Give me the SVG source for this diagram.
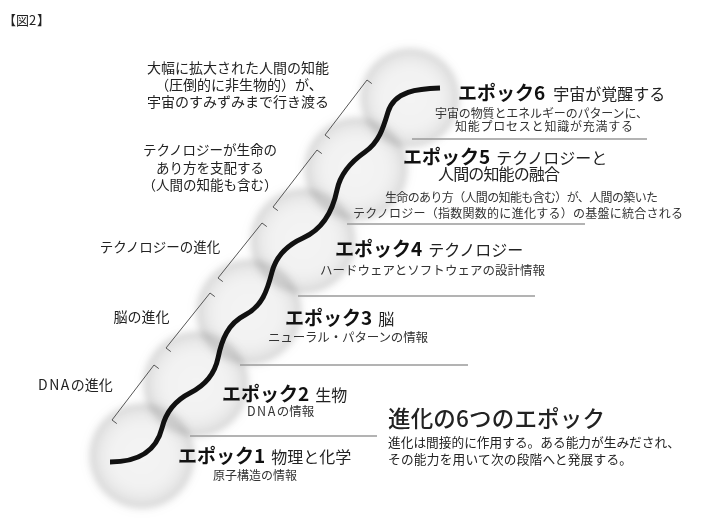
<svg xmlns="http://www.w3.org/2000/svg" width="711" height="531" viewBox="0 0 711 531">
<defs>
<radialGradient id="sph" cx="50%" cy="50%" r="50%">
<stop offset="0" stop-color="#000" stop-opacity="0"/>
<stop offset="0.6" stop-color="#000" stop-opacity="0.01"/>
<stop offset="0.85" stop-color="#000" stop-opacity="0.05"/>
<stop offset="1" stop-color="#000" stop-opacity="0.15"/>
</radialGradient>
<filter id="soft" x="-30%" y="-30%" width="160%" height="160%">
<feGaussianBlur stdDeviation="3"/>
</filter>
<filter id="halo" x="-40%" y="-40%" width="180%" height="180%">
<feGaussianBlur stdDeviation="6"/>
</filter>
<style>
text{font-family:"Noto Sans CJK JP","Noto Sans CJK SC",sans-serif;fill:#222}
.lbl{font-size:14px;text-anchor:middle}
.lbl2{font-size:13.5px;text-anchor:middle}
.hd{font-size:19px;font-weight:700;fill:#111}
.hs{font-size:16px;font-weight:400;fill:#222}
.sub{font-size:12px;fill:#333}
.sub2{font-size:12.5px;fill:#333}
.rule{stroke:#9a9a9a;stroke-width:1.5;fill:none}
.br{stroke:#555;stroke-width:1;fill:none}
.wave{stroke:#111;stroke-width:5;fill:none}
.sp{fill:url(#sph)}
.sh{fill:#000;opacity:0.045}
</style>
</defs>
<rect width="711" height="531" fill="#fff"/>

<g id="spheres">
<g filter="url(#halo)">
<circle class="sh" cx="142" cy="456" r="53"/>
<circle class="sh" cx="196" cy="384" r="53"/>
<circle class="sh" cx="249" cy="312" r="53"/>
<circle class="sh" cx="303" cy="241" r="53"/>
<circle class="sh" cx="356" cy="169" r="52"/>
<circle class="sh" cx="410" cy="98" r="50"/>
</g>
<g filter="url(#soft)">
<circle class="sp" cx="410" cy="98" r="49"/>
<circle class="sp" cx="356" cy="169" r="51"/>
<circle class="sp" cx="303" cy="241" r="52"/>
<circle class="sp" cx="249" cy="312" r="52"/>
<circle class="sp" cx="196" cy="384" r="52"/>
<circle class="sp" cx="142" cy="456" r="52"/>
</g>
</g>

<g id="connectors">
<path class="wave" d="M110,462 C140,462 156.7,449.3 162,428 C166,411.5 175,400.6 190,393 C205,385.4 214.6,374.7 218,358 C221.8,339.4 228,323.6 245,315 C262,306.4 267.3,290.4 272,272 C276.3,255.5 287.5,245 303,238 C323,229 332.6,211.6 337,190 C340.4,173.3 351,161.7 365,152 C379,142.3 383.1,128.3 388,112 C394.4,90.9 418,88.7 440,88"/>
<path class="br" d="M158.8,368.6 L154,365 L112,420 L116.8,423.6"/>
<path class="br" d="M214.8,296.6 L210,293 L166,348 L170.8,351.6"/>
<path class="br" d="M266.8,226.6 L262,223 L218,278 L222.8,281.6"/>
<path class="br" d="M321.8,153.6 L317,150 L273,207 L277.8,210.6"/>
<path class="br" d="M371.8,83.6 L367,80 L325,135 L329.8,138.6"/>
<line class="rule" x1="412" y1="139" x2="647" y2="139"/>
<line class="rule" x1="347" y1="224" x2="585" y2="224"/>
<line class="rule" x1="298" y1="296" x2="535" y2="296"/>
<line class="rule" x1="240" y1="365" x2="468" y2="365"/>
<line class="rule" x1="190" y1="436" x2="377" y2="436"/>
</g>

<g id="fig-label">
<text y="25" font-size="13"><tspan x="3">【</tspan><tspan x="16">図2</tspan><tspan x="37">】</tspan></text>
</g>

<g id="label-universe">
<text class="lbl" x="238" y="73">大幅に拡大された人間の知能</text>
<text class="lbl" x="239" y="90">（圧倒的に非生物的）が、</text>
<text class="lbl" x="238" y="106.5">宇宙のすみずみまで行き渡る</text>
</g>
<g id="label-techlife">
<text class="lbl2" x="210" y="155">テクノロジーが生命の</text>
<text class="lbl2" x="210" y="173">あり方を支配する</text>
<text class="lbl2" x="210" y="190">（人間の知能も含む）</text>
</g>
<g id="label-tech">
<text class="lbl2" x="160" y="252">テクノロジーの進化</text>
</g>
<g id="label-brain">
<text class="lbl" x="141.5" y="322">脳の進化</text>
</g>
<g id="label-dna">
<text x="38" y="390" font-size="14"><tspan letter-spacing="1.5">DNA</tspan>の進化</text>
</g>

<g id="epoch6">
<text x="458" y="99.5"><tspan class="hd">エポック6</tspan><tspan class="hs" dx="8">宇宙が覚醒する</tspan></text>
<text class="sub" x="541.5" y="117.5" text-anchor="middle" textLength="213">宇宙の物質とエネルギーのパターンに、</text>
<text class="sub" x="544" y="130.5" text-anchor="middle" textLength="178">知能プロセスと知識が充満する</text>
</g>
<g id="epoch5">
<text x="403" y="163.5"><tspan class="hd">エポック5</tspan><tspan class="hs" dx="6">テクノロジーと</tspan></text>
<text class="hs" x="438" y="180" textLength="122">人間の知能の融合</text>
<text class="sub" x="521.5" y="201.5" text-anchor="middle" textLength="273">生命のあり方（人間の知能も含む）が、人間の築いた</text>
<text class="sub" x="518" y="217.5" text-anchor="middle" textLength="330">テクノロジー（指数関数的に進化する）の基盤に統合される</text>
</g>
<g id="epoch4">
<text x="335" y="255.5"><tspan class="hd">エポック4</tspan><tspan class="hs" dx="6">テクノロジー</tspan></text>
<text class="sub2" x="320" y="274.5" textLength="225">ハードウェアとソフトウェアの設計情報</text>
</g>
<g id="epoch3">
<text x="285" y="324.5"><tspan class="hd">エポック3</tspan><tspan class="hs" dx="6">脳</tspan></text>
<text class="sub2" x="268" y="341.5" textLength="160">ニューラル・パターンの情報</text>
</g>
<g id="epoch2">
<text x="222" y="400.5"><tspan class="hd">エポック2</tspan><tspan class="hs" dx="6">生物</tspan></text>
<text class="sub2" x="247" y="415.5"><tspan letter-spacing="1.5">DNA</tspan>の情報</text>
</g>
<g id="epoch1">
<text x="178" y="462.5"><tspan class="hd">エポック1</tspan><tspan class="hs" dx="6">物理と化学</tspan></text>
<text class="sub" x="213" y="480" font-size="13">原子構造の情報</text>
</g>

<g id="title">
<text x="388" y="426.5" font-size="22.5" font-weight="500" fill="#111" textLength="217">進化の6つのエポック</text>
<text x="388" y="447" font-size="12.7" textLength="292">進化は間接的に作用する。ある能力が生みだされ、</text>
<text x="388" y="464" font-size="12.7" textLength="244">その能力を用いて次の段階へと発展する。</text>
</g>
</svg>
